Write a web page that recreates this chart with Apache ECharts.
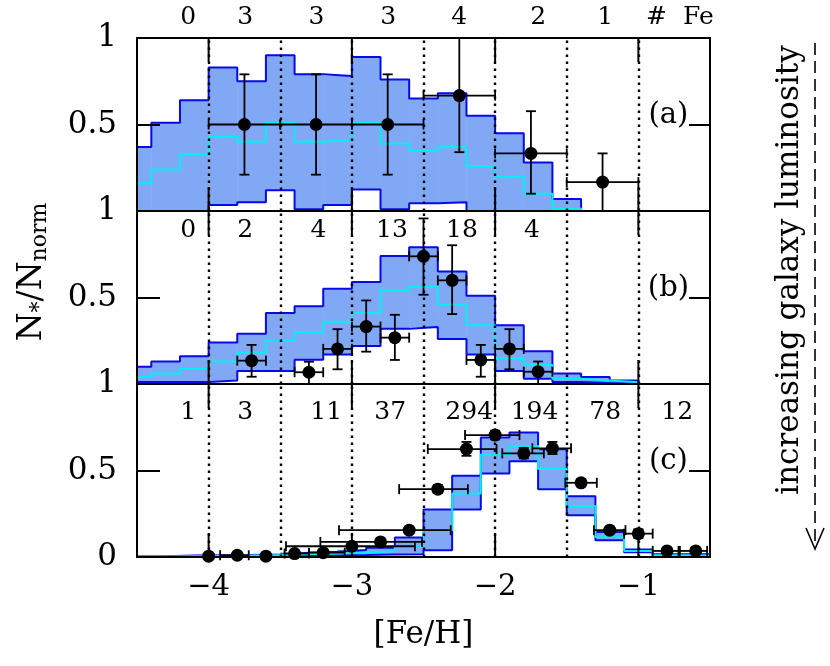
<!DOCTYPE html>
<html><head><meta charset="utf-8">
<script src="https://cdn.jsdelivr.net/npm/echarts@6/dist/echarts.min.js"></script>
<style>html,body{margin:0;padding:0;background:#fff}#c{width:830px;height:666px}</style>
</head><body><div id="c"></div>
<script>
// ---------------- data ----------------
const XMIN = -4.5, XMAX = -0.5;
const xTickValues = [-4, -3, -2, -1];
const guideX = [-4, -3.5, -3, -2.5, -2, -1.5, -1];

// panels (a) and (b): 0.2-dex bins (centres)
const binsAB = [-4.5,-4.3,-4.1,-3.9,-3.7,-3.5,-3.3,-3.1,-2.9,-2.7,-2.5,-2.3,-2.1,-1.9,-1.7,-1.5,-1.3,-1.1];
// panel (c): 0.2-dex bins (centres)
const binsC = [-4.4,-4.2,-4.0,-3.8,-3.6,-3.4,-3.2,-3.0,-2.8,-2.6,-2.4,-2.2,-2.0,-1.8,-1.6,-1.4,-1.2,-1.0,-0.8,-0.6];

const upperA = [0.37,0.51,0.64,0.83,0.75,0.90,0.79,0.78,0.89,0.76,0.65,0.68,0.55,0.45,0.28,0.07];
const medianA = [0.16,0.24,0.33,0.43,0.40,0.51,0.40,0.41,0.51,0.39,0.35,0.37,0.26,0.20,0.10,0.015];
const lowerA = [0,0,0,0.035,0.05,0.12,0.01,0.035,0.125,0.01,0.045,0.05,0,0,0,0];

const upperB = [0.10,0.13,0.16,0.24,0.29,0.41,0.45,0.55,0.59,0.74,0.79,0.65,0.51,0.34,0.19,0.06,0.04,0.02];
const medianB = [0.04,0.06,0.09,0.13,0.18,0.25,0.30,0.36,0.41,0.54,0.56,0.46,0.34,0.15,0.11,0.03,0.02,0.01];
const lowerB = [0.012,0.012,0.012,0.02,0.075,0.075,0.14,0.17,0.22,0.32,0.33,0.26,0.17,0.075,0.03,0.012,0.006,0.003];

const upperC = [0.005,0.008,0.01,0.012,0.015,0.025,0.03,0.04,0.054,0.112,0.274,0.469,0.691,0.720,0.623,0.351,0.145,0.044,0.016,0.016];
const medianC = [0.003,0.005,0.007,0.009,0.012,0.016,0.02,0.025,0.035,0.062,0.154,0.367,0.593,0.641,0.508,0.295,0.116,0.035,0.01,0.008];
const lowerC = [0,0,0.002,0.003,0.005,0.007,0.01,0.012,0.015,0.016,0.039,0.274,0.483,0.554,0.392,0.241,0.097,0.027,0.005,0.003];

// data points with error bars: x, y, xlo, xhi, ylo, yhi
const ptsAx = [-3.75,-3.25,-2.75,-2.25,-1.75,-1.25];
const ptsAy = [0.5,0.5,0.5,0.667,0.333,0.167];
const ptsAxlo = [-4.0,-3.5,-3.0,-2.5,-2.0,-1.5];
const ptsAxhi = [-3.5,-3.0,-2.5,-2.0,-1.5,-1.0];
const ptsAylo = [0.21,0.21,0.21,0.34,0.10,0];
const ptsAyhi = [0.79,0.79,0.79,1.0,0.577,0.333];

const ptsBx = [-3.7,-3.3,-3.1,-2.9,-2.7,-2.5,-2.3,-2.1,-1.9,-1.7];
const ptsBy = [0.135,0.068,0.203,0.332,0.268,0.738,0.599,0.139,0.203,0.071];
const ptsBxlo = [-3.8,-3.4,-3.2,-3.0,-2.8,-2.6,-2.4,-2.2,-2.0,-1.8];
const ptsBxhi = [-3.6,-3.2,-3.0,-2.8,-2.6,-2.4,-2.2,-2.0,-1.8,-1.6];
const ptsBylo = [0.042,0.0,0.085,0.187,0.139,0.516,0.404,0.042,0.085,0.0];
const ptsByhi = [0.226,0.129,0.317,0.483,0.40,0.957,0.802,0.226,0.317,0.13];

const ptsCx = [-4.0,-3.8,-3.6,-3.4,-3.2,-3.0,-2.8,-2.6,-2.4,-2.2,-2.0,-1.8,-1.6,-1.4,-1.2,-1.0,-0.8,-0.6];
const ptsCy = [0.005,0.01,0.005,0.02,0.025,0.062,0.087,0.155,0.392,0.624,0.705,0.599,0.628,0.429,0.155,0.135,0.035,0.035];
const ptsCxlo = [-4.0,-3.92,-3.6,-3.47,-3.3,-3.46,-3.22,-3.09,-2.67,-2.47,-2.21,-1.95,-1.74,-1.51,-1.31,-1.10,-0.90,-0.71];
const ptsCxhi = [-4.0,-3.72,-3.6,-3.3,-3.05,-2.56,-2.51,-2.31,-2.19,-1.99,-1.83,-1.66,-1.47,-1.29,-1.09,-0.90,-0.72,-0.52];
const ptsCylo = [0.005,0.01,0.005,0.015,0.02,0.05,0.075,0.14,0.37,0.585,0.68,0.57,0.595,0.41,0.14,0.11,0.03,0.03];
const ptsCyhi = [0.005,0.01,0.005,0.025,0.03,0.075,0.10,0.17,0.415,0.665,0.73,0.63,0.665,0.45,0.17,0.16,0.04,0.04];

// number of stars with Fe measurements in each 0.5-dex interval
const countsA = ['0','3','3','3','4','2','1'];
const countsAx = [-4.142,-3.744,-3.248,-2.746,-2.250,-1.699,-1.232];
const countsB = ['0','2','4','13','18','4'];
const countsBx = [-4.142,-3.744,-3.234,-2.72,-2.232,-1.743];
const countsC = ['1','3','11','37','294','194','78','12'];
const countsCx = [-4.142,-3.744,-3.179,-2.732,-2.181,-1.725,-1.232,-0.729];
const panelNames = ['(a)','(b)','(c)'];

// ---------------- helpers ----------------
const FONT = 'DejaVu Serif';
const BLUE = '#0a0ae8', CYAN = '#00f0f0', FILL = '#80a8f4';

function steps(centers, vals, dropEnd) {
  const pts = [];
  vals.forEach((v, i) => {
    const l = Math.max(centers[i] - 0.1, XMIN), r = Math.min(centers[i] + 0.1, XMAX);
    pts.push([l, v], [r, v]);
  });
  if (dropEnd) pts.push([pts[pts.length - 1][0], 0]);
  const out = [];
  for (let i = 0; i < pts.length; i++) {
    if (i > 0 && pts[i][1] === 0 && pts[i - 1][1] === 0) out.push([NaN, NaN]);
    out.push(pts[i]);
  }
  return out;
}
function band(centers, lo, hi) {
  return hi.map((h, i) => [Math.max(centers[i] - 0.1, XMIN), Math.min(centers[i] + 0.1, XMAX), lo[i], h]);
}
function zip(...arrs) { return arrs[0].map((_, i) => arrs.map(a => a[i])); }

function bandItem(params, api) {
  const p1 = api.coord([api.value(0), api.value(3)]);
  const p2 = api.coord([api.value(1), api.value(2)]);
  return { type: 'rect', shape: { x: p1[0], y: p1[1], width: p2[0] - p1[0], height: p2[1] - p1[1] },
           style: { fill: FILL, stroke: FILL, lineWidth: 0.6 } };
}
function errItem(params, api) {
  const x = api.value(0), y = api.value(1), xl = api.value(2), xh = api.value(3), yl = api.value(4), yh = api.value(5);
  const c = api.coord([x, y]);
  const st = { stroke: '#000', lineWidth: 1.8 };
  const cap = 5;
  const ch = [];
  const L = (x1, y1, x2, y2) => ({ type: 'line', shape: { x1, y1, x2, y2 }, style: st });
  if (xh > xl) {
    const a = api.coord([xl, y])[0], b = api.coord([xh, y])[0];
    ch.push(L(a, c[1], b, c[1]), L(a, c[1] - cap, a, c[1] + cap), L(b, c[1] - cap, b, c[1] + cap));
  }
  if (yh > yl) {
    const a = api.coord([x, yl])[1], b = api.coord([x, yh])[1];
    ch.push(L(c[0], a, c[0], b), L(c[0] - cap, a, c[0] + cap, a), L(c[0] - cap, b, c[0] + cap, b));
  }
  return { type: 'group', children: ch };
}
// long inward ticks at integer [Fe/H] on the top and bottom edge of a panel
function tickItem(params, api) {
  const v = api.value(0);
  const b = api.coord([v, 0]), t = api.coord([v, 1]);
  const st = { stroke: '#000', lineWidth: 2 };
  return { type: 'group', children: [
    { type: 'line', shape: { x1: b[0], y1: b[1], x2: b[0], y2: b[1] - 24 }, style: st },
    { type: 'line', shape: { x1: t[0], y1: t[1], x2: t[0], y2: t[1] + 24 }, style: st }
  ] };
}

const GRID_TOP = [38, 211, 384];
const GRID_H = 173;
const grids = GRID_TOP.map(t => ({ left: 137, width: 573, top: t, height: GRID_H, show: false }));

const xAxes = [], yAxes = [];
for (let g = 0; g < 3; g++) {
  ['bottom', 'top'].forEach(pos => {
    const isLabel = (g === 2 && pos === 'bottom');
    xAxes.push({
      type: 'value', gridIndex: g, position: pos, min: XMIN, max: XMAX, interval: 0.5, z: 10,
      axisLine: { show: true, onZero: false, lineStyle: { color: '#000', width: 2 } },
      axisTick: { show: false },
      axisLabel: { show: isLabel, customValues: xTickValues, margin: 16, color: '#000', fontFamily: FONT, fontSize: 29,
                   formatter: v => (v < 0 ? '\u2212' : '') + Math.abs(v) },
      splitLine: { show: false },
      name: isLabel ? '[Fe/H]' : '', nameLocation: 'middle', nameGap: 62,
      nameTextStyle: { color: '#000', fontFamily: FONT, fontSize: 31 }
    });
  });
  ['left', 'right'].forEach(pos => {
    const isLabel = pos === 'left';
    yAxes.push({
      type: 'value', gridIndex: g, position: pos, min: 0, max: 1, interval: 0.5, z: 10,
      axisLine: { show: true, onZero: false, lineStyle: { color: '#000', width: 2 } },
      axisTick: { show: true, inside: true, length: pos === 'left' ? 23 : 21, lineStyle: { color: '#000', width: 2 } },
      axisLabel: { show: isLabel, margin: 20, color: '#000', fontFamily: FONT, fontSize: 31,
                   formatter: v => (v === 0 && g !== 2) ? '' : String(v) },
      splitLine: { show: false }
    });
  });
}

const series = [];
const panels = [
  { bins: binsAB, up: upperA, med: medianA, lo: lowerA, px: ptsAx, py: ptsAy, pxl: ptsAxlo, pxh: ptsAxhi, pyl: ptsAylo, pyh: ptsAyhi, cnt: countsA, cntx: countsAx, cnty: 1.117, drop: true },
  { bins: binsAB, up: upperB, med: medianB, lo: lowerB, px: ptsBx, py: ptsBy, pxl: ptsBxlo, pxh: ptsBxhi, pyl: ptsBylo, pyh: ptsByhi, cnt: countsB, cntx: countsBx, cnty: 0.89, drop: true },
  { bins: binsC, up: upperC, med: medianC, lo: lowerC, px: ptsCx, py: ptsCy, pxl: ptsCxlo, pxh: ptsCxhi, pyl: ptsCylo, pyh: ptsCyhi, cnt: countsC, cntx: countsCx, cnty: 0.835, drop: false }
];
panels.forEach((p, g) => {
  const ax = { xAxisIndex: 2 * g, yAxisIndex: 2 * g };
  series.push({ type: 'custom', ...ax, z: 1, renderItem: bandItem, data: band(p.bins, p.lo, p.up),
                encode: { x: [0, 1], y: [2, 3] }, silent: true });
  series.push({ type: 'line', ...ax, z: 3, data: steps(p.bins, p.lo, p.drop), symbol: 'none',
                lineStyle: { color: BLUE, width: 2 }, connectNulls: false, silent: true });
  series.push({ type: 'line', ...ax, z: 3, data: steps(p.bins, p.up, p.drop), symbol: 'none',
                lineStyle: { color: BLUE, width: 2 }, connectNulls: false, silent: true });
  series.push({ type: 'line', ...ax, z: 4, data: steps(p.bins, p.med, p.drop), symbol: 'none',
                lineStyle: { color: CYAN, width: 2 }, connectNulls: false, silent: true });
  series.push({ type: 'custom', ...ax, z: 5, renderItem: tickItem, data: xTickValues.map(v => [v]),
                encode: { x: 0 }, silent: true });
  series.push({ type: 'custom', ...ax, z: 6, renderItem: errItem, data: zip(p.px, p.py, p.pxl, p.pxh, p.pyl, p.pyh),
                encode: { x: [0, 2, 3], y: [1, 4, 5] }, silent: true });
  series.push({ type: 'scatter', ...ax, z: 7, data: zip(p.px, p.py), symbol: 'circle', symbolSize: 13,
                itemStyle: { color: '#000', opacity: 1 }, silent: true,
                markLine: { silent: true, symbol: 'none', label: { show: false }, animation: false,
                            lineStyle: { color: '#000', width: 2.4, type: [2.4, 4.6], opacity: 1 },
                            data: guideX.map(v => ({ xAxis: v })) } });
  const lbl = p.cnt.map((t, i) => ({ value: [p.cntx[i], p.cnty], name: t, size: 25 }));
  if (g === 0) lbl.push({ value: [-0.71, p.cnty], name: '#  Fe', size: 25 });
  lbl.push({ value: [-0.79, 0.55], name: panelNames[g], size: 29 });
  series.push({ type: 'scatter', ...ax, z: 8, clip: false, symbolSize: 1,
                itemStyle: { color: 'rgba(0,0,0,0)', opacity: 1 }, silent: true,
                data: lbl.map(d => ({ value: d.value, name: d.name, label: { fontSize: d.size } })),
                label: { show: true, position: 'inside', color: '#000', fontFamily: FONT, fontSize: 25,
                         formatter: q => q.name } });
});

const chart = echarts.init(document.getElementById('c'));
chart.setOption({
  animation: false,
  backgroundColor: '#fff',
  grid: grids,
  xAxis: xAxes,
  yAxis: yAxes,
  series: series,
  graphic: [
    { type: 'text', x: 32, y: 272, rotation: Math.PI / 2,
      style: { text: '{m|N}{s|*}{m|/N}{s|norm}', align: 'center', verticalAlign: 'middle',
               rich: { m: { fontFamily: FONT, fontSize: 33, fill: '#000', lineHeight: 36 },
                       s: { fontFamily: FONT, fontSize: 22, fill: '#000', lineHeight: 22, padding: [17, 0, 0, 0] } } } },
    { type: 'text', x: 790, y: 270, rotation: Math.PI / 2,
      style: { text: 'increasing galaxy luminosity', align: 'center', verticalAlign: 'middle',
               fontFamily: FONT, fontSize: 31, fill: '#000' } },
    { type: 'line', shape: { x1: 815, y1: 43, x2: 815, y2: 546 },
      style: { stroke: '#000', lineWidth: 1.6, lineDash: [12, 6] } },
    { type: 'polyline', shape: { points: [[806, 528], [815, 549], [824, 528]] },
      style: { stroke: '#000', lineWidth: 1.6, fill: null } }
  ]
});
</script>
</body></html>
